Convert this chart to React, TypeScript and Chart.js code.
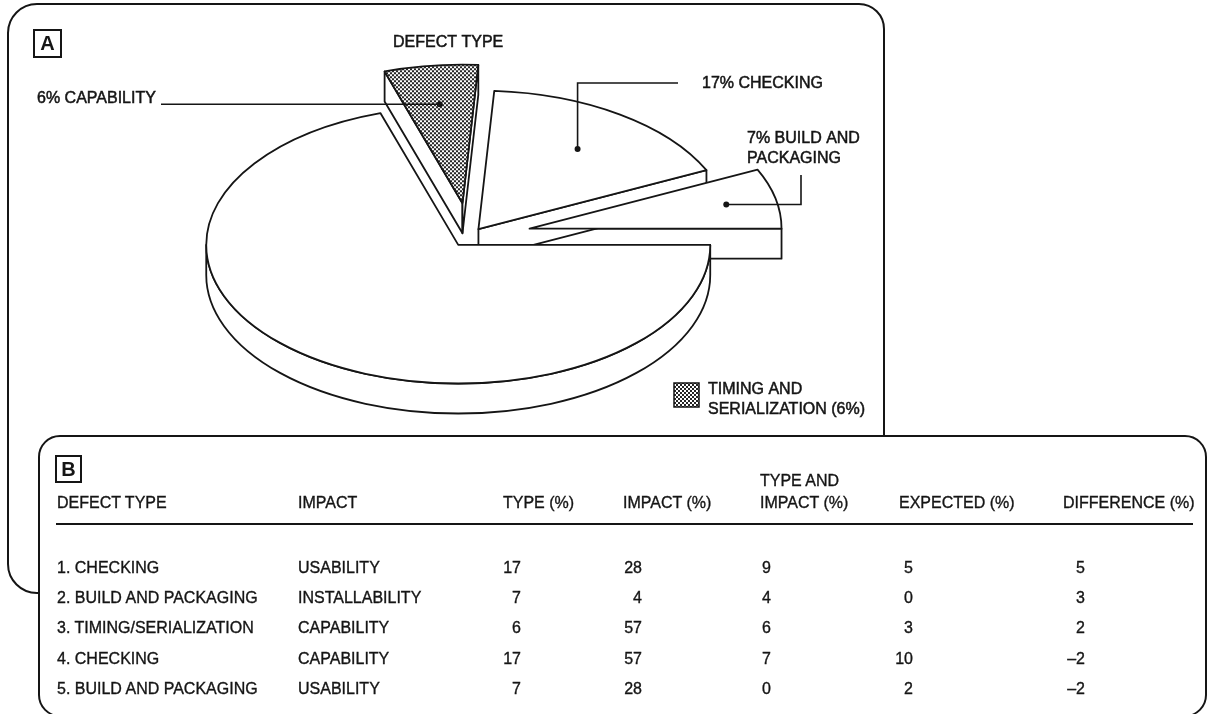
import { useEffect, useRef } from 'react';
import { Chart, registerables } from 'chart.js';

Chart.register(...registerables);

// ---------- Panel A: share of defects by type ----------
const sliceNames = ['CAPABILITY', 'CHECKING', 'BUILD AND PACKAGING', 'ALL OTHER TYPES'];
const slicePercents = [6, 17, 7, 70];
const pieTitle = 'DEFECT TYPE';
const legendLines = ['TIMING AND', 'SERIALIZATION'];

// ---------- Panel B: type / impact table ----------
const headerLines = [
  ['DEFECT TYPE'],
  ['IMPACT'],
  ['TYPE (%)'],
  ['IMPACT (%)'],
  ['TYPE AND', 'IMPACT (%)'],
  ['EXPECTED (%)'],
  ['DIFFERENCE (%)'],
];
const defectTypes = [
  '1. CHECKING',
  '2. BUILD AND PACKAGING',
  '3. TIMING/SERIALIZATION',
  '4. CHECKING',
  '5. BUILD AND PACKAGING',
];
const impacts = ['USABILITY', 'INSTALLABILITY', 'CAPABILITY', 'CAPABILITY', 'USABILITY'];
const typePct = [17, 7, 6, 17, 7];
const impactPct = [28, 4, 57, 57, 28];
const typeImpactPct = [9, 4, 6, 7, 0];
const expectedPct = [5, 0, 3, 10, 2];
const differencePct = [5, 3, 2, -2, -2];

// ---------- styling / layout ----------
const FONT = '"Liberation Sans", Arial, Helvetica, sans-serif';
const INK = '#151515';
const LINE = 1.8;

const PIE_RADIUS = 252;
const TILT = 0.55; // vertical squash of the disc
const DEPTH = 30; // disc thickness in px
const EXPLODE = [60, 15, 61, 20]; // pull-out distance of each slice
const DOT_FRACTION = [0.72, 0.7, 0.8]; // where each callout touches its slice

const COL_LEFT = [57, 298, 503, 623, 760, 899, 1063];
const NUM_COLS = [
  { x: 521, align: 'right' },
  { x: 642, align: 'right' },
  { x: 762, align: 'left' },
  { x: 913, align: 'right' },
  { x: 1085, align: 'right' },
];
const HEADER_Y = 503;
const HEADER_LINE_STEP = 22;
const ROW_Y0 = 568;
const ROW_STEP = 30.2;

const fmtSigned = (v: number) => (v < 0 ? '\u2013' + Math.abs(v) : String(v));

function makeStipple(yStretch: number): CanvasPattern | string {
  const c = document.createElement('canvas');
  c.width = 4;
  c.height = 4;
  const g = c.getContext('2d');
  if (!g) return '#888';
  g.fillStyle = '#ffffff';
  g.fillRect(0, 0, 4, 4);
  g.fillStyle = '#262626';
  for (let y = 0; y < 4; y++)
    for (let x = 0; x < 4; x++) if (((x >> 1) + (y >> 1)) % 2 === 0) g.fillRect(x, y, 1, 1);
  const p = g.createPattern(c, 'repeat');
  if (!p) return '#888';
  if (yStretch !== 1 && typeof DOMMatrix !== 'undefined') {
    p.setTransform(new DOMMatrix([1, 0, 0, yStretch, 0, 0]));
  }
  return p;
}

type Shape = { i: number; sx: number; sy: number; r: number; ry: number; a1: number; a2: number };

function Text({ x, cy, children, w, align }: any) {
  const style: any = {
    position: 'absolute',
    top: cy - 9,
    lineHeight: '18px',
    fontSize: 16,
    whiteSpace: 'nowrap',
    WebkitTextStroke: `0.35px ${INK}`,
  };
  if (align === 'right') {
    style.left = x - (w || 80);
    style.width = w || 80;
    style.textAlign = 'right';
  } else {
    style.left = x;
  }
  return <div style={style}>{children}</div>;
}

export default function App() {
  const ref = useRef<HTMLCanvasElement>(null);

  useEffect(() => {
    const canvas = ref.current;
    if (!canvas) return;
    const sliceStipple = makeStipple(1 / TILT);
    const keyStipple = makeStipple(1);
    const center = { x: 0, y: 0 };

    const shapesOf = (chart: any): Shape[] =>
      chart.getDatasetMeta(0).data.map((arc: any, i: number) => ({
        i,
        sx: arc.x,
        sy: center.y + (arc.y - center.y) * TILT,
        r: arc.outerRadius,
        ry: arc.outerRadius * TILT,
        a1: arc.startAngle,
        a2: arc.endAngle,
      }));

    const drawSides = (ctx: CanvasRenderingContext2D, s: Shape) => {
      const pt = (a: number) => [s.sx + s.r * Math.cos(a), s.sy + s.ry * Math.sin(a)];
      // rim of the disc on the near half
      for (const k of [-1, 0, 1]) {
        const lo = Math.max(s.a1, k * 2 * Math.PI);
        const hi = Math.min(s.a2, k * 2 * Math.PI + Math.PI);
        if (hi - lo > 1e-4) {
          ctx.beginPath();
          ctx.ellipse(s.sx, s.sy, s.r, s.ry, 0, lo, hi);
          ctx.ellipse(s.sx, s.sy + DEPTH, s.r, s.ry, 0, hi, lo, true);
          ctx.closePath();
          ctx.fill();
          ctx.stroke();
        }
      }
      // cut faces that turn towards the viewer
      const face = (a: number) => {
        const [px, py] = pt(a);
        ctx.beginPath();
        ctx.moveTo(s.sx, s.sy);
        ctx.lineTo(px, py);
        ctx.lineTo(px, py + DEPTH);
        ctx.lineTo(s.sx, s.sy + DEPTH);
        ctx.closePath();
        ctx.fill();
        ctx.stroke();
      };
      if (Math.cos(s.a1) < -1e-6) face(s.a1);
      if (Math.cos(s.a2) > 1e-6) face(s.a2);
    };

    const pie3d = {
      id: 'pie3d',
      afterDatasetsUpdate(chart: any) {
        const arcs = chart.getDatasetMeta(0).data;
        if (!arcs.length) return;
        center.x = arcs[0].x;
        center.y = arcs[0].y;
        arcs.forEach((arc: any, i: number) => {
          const mid = (arc.startAngle + arc.endAngle) / 2;
          arc.x = center.x + Math.cos(mid) * EXPLODE[i];
          arc.y = center.y + Math.sin(mid) * EXPLODE[i];
        });
      },
      beforeDatasetsDraw(chart: any) {
        const ctx: CanvasRenderingContext2D = chart.ctx;
        const shapes = shapesOf(chart).sort((a, b) => a.sy - b.sy);
        ctx.save();
        ctx.lineWidth = LINE;
        ctx.lineJoin = 'round';
        ctx.strokeStyle = INK;
        ctx.fillStyle = '#ffffff';
        shapes.forEach((s) => drawSides(ctx, s));
        ctx.restore();
        // the library fills the slice tops on a squashed plane
        ctx.save();
        ctx.translate(center.x, center.y);
        ctx.scale(1, TILT);
        ctx.translate(-center.x, -center.y);
      },
      afterDatasetsDraw(chart: any) {
        const ctx: CanvasRenderingContext2D = chart.ctx;
        ctx.restore();
        const shapes = shapesOf(chart);
        ctx.save();
        ctx.lineWidth = LINE;
        ctx.lineJoin = 'round';
        ctx.strokeStyle = INK;
        shapes.forEach((s) => {
          ctx.beginPath();
          ctx.moveTo(s.sx, s.sy);
          ctx.ellipse(s.sx, s.sy, s.r, s.ry, 0, s.a1, s.a2);
          ctx.closePath();
          ctx.stroke();
        });

        // callouts
        const dot = (i: number) => {
          const s = shapes[i];
          const mid = (s.a1 + s.a2) / 2;
          return {
            x: s.sx + DOT_FRACTION[i] * s.r * Math.cos(mid),
            y: s.sy + DOT_FRACTION[i] * s.ry * Math.sin(mid),
          };
        };
        const d0 = dot(0);
        const d1 = dot(1);
        const d2 = dot(2);
        ctx.lineWidth = 1.6;
        ctx.lineJoin = 'miter';
        ctx.beginPath();
        ctx.moveTo(161, d0.y);
        ctx.lineTo(d0.x, d0.y);
        ctx.moveTo(d1.x, d1.y);
        ctx.lineTo(d1.x, 83);
        ctx.lineTo(678, 83);
        ctx.moveTo(d2.x, d2.y);
        ctx.lineTo(801, d2.y);
        ctx.lineTo(801, 175);
        ctx.stroke();
        ctx.fillStyle = INK;
        [d0, d1, d2].forEach((d) => {
          ctx.beginPath();
          ctx.arc(d.x, d.y, 3, 0, Math.PI * 2);
          ctx.fill();
        });

        ctx.font = `16px ${FONT}`;
        ctx.textBaseline = 'alphabetic';
        ctx.lineWidth = 0.5;
        const label = (t: string, x: number, cy: number) => {
          ctx.fillText(t, x, cy + 5.8);
          ctx.strokeText(t, x, cy + 5.8);
        };
        label(pieTitle, 393, 41);
        label(`${slicePercents[0]}% ${sliceNames[0]}`, 37, 97);
        label(`${slicePercents[1]}% ${sliceNames[1]}`, 702, 82);
        const buildWords = sliceNames[2].split(' ');
        label(`${slicePercents[2]}% ${buildWords.slice(0, 2).join(' ')}`, 747, 137);
        label(buildWords.slice(2).join(' '), 747, 157);

        // key for the stippled slice
        ctx.fillStyle = keyStipple as any;
        ctx.fillRect(674, 383, 25, 24);
        ctx.lineWidth = 1.5;
        ctx.strokeRect(674, 383, 25, 24);
        ctx.fillStyle = INK;
        ctx.lineWidth = 0.5;
        label(legendLines[0], 708, 388);
        label(`${legendLines[1]} (${slicePercents[0]}%)`, 708, 408);
        ctx.restore();
      },
    };

    const chart = new Chart(canvas, {
      type: 'pie',
      data: {
        labels: sliceNames,
        datasets: [
          {
            data: slicePercents,
            backgroundColor: [sliceStipple as any, '#ffffff', '#ffffff', '#ffffff'],
            borderWidth: 0,
            hoverOffset: 0,
            clip: false as any,
          },
        ],
      },
      options: {
        animation: false,
        responsive: false,
        events: [],
        radius: PIE_RADIUS,
        rotation: -18,
        layout: { padding: { left: 56, top: 36, right: 0, bottom: 0 } },
        plugins: { legend: { display: false }, tooltip: { enabled: false }, title: { display: false } },
      } as any,
      plugins: [pie3d],
    });
    return () => chart.destroy();
  }, []);

  const box = (left: number, top: number, w: number, h: number, letter: string) => (
    <div
      style={{
        position: 'absolute',
        left,
        top,
        width: w,
        height: h,
        boxSizing: 'border-box',
        border: `2px solid ${INK}`,
        fontWeight: 700,
        fontSize: 20,
        lineHeight: `${h - 4}px`,
        textAlign: 'center',
        zIndex: 3,
      }}
    >
      {letter}
    </div>
  );

  const numericCols = [typePct, impactPct, typeImpactPct, expectedPct, differencePct];

  return (
    <div
      style={{
        position: 'fixed',
        left: 0,
        top: 0,
        width: 1208,
        height: 714,
        overflow: 'hidden',
        background: '#ffffff',
        color: INK,
        fontFamily: FONT,
      }}
    >
      <div
        style={{
          position: 'absolute',
          left: 7,
          top: 3,
          width: 878,
          height: 591,
          boxSizing: 'border-box',
          border: `2px solid ${INK}`,
          borderRadius: '30px 26px 0 30px',
        }}
      />
      <canvas
        ref={ref}
        width={884}
        height={436}
        style={{ position: 'absolute', left: 0, top: 0, width: 884, height: 436, zIndex: 1 }}
      />
      {box(33, 29, 29, 29, 'A')}
      <div
        style={{
          position: 'absolute',
          left: 38,
          top: 435,
          width: 1169,
          height: 282,
          boxSizing: 'border-box',
          border: `2px solid ${INK}`,
          borderRadius: 22,
          background: '#ffffff',
          zIndex: 2,
        }}
      />
      <div style={{ position: 'absolute', left: 0, top: 0, width: 1208, height: 714, zIndex: 3 }}>
        {box(55, 455, 27, 28, 'B')}
        {headerLines.map((lines, c) =>
          lines.map((t, j) => (
            <Text key={`h${c}-${j}`} x={COL_LEFT[c]} cy={HEADER_Y - (lines.length - 1 - j) * HEADER_LINE_STEP}>
              {t}
            </Text>
          ))
        )}
        <div
          style={{
            position: 'absolute',
            left: 56,
            top: 523,
            width: 1137,
            height: 2,
            background: INK,
          }}
        />
        {defectTypes.map((t, r) => (
          <Text key={`d${r}`} x={COL_LEFT[0]} cy={ROW_Y0 + r * ROW_STEP}>
            {t}
          </Text>
        ))}
        {impacts.map((t, r) => (
          <Text key={`i${r}`} x={COL_LEFT[1]} cy={ROW_Y0 + r * ROW_STEP}>
            {t}
          </Text>
        ))}
        {numericCols.map((col, c) =>
          col.map((v, r) => (
            <Text
              key={`n${c}-${r}`}
              x={NUM_COLS[c].x}
              align={NUM_COLS[c].align}
              cy={ROW_Y0 + r * ROW_STEP}
            >
              {fmtSigned(v)}
            </Text>
          ))
        )}
      </div>
    </div>
  );
}
